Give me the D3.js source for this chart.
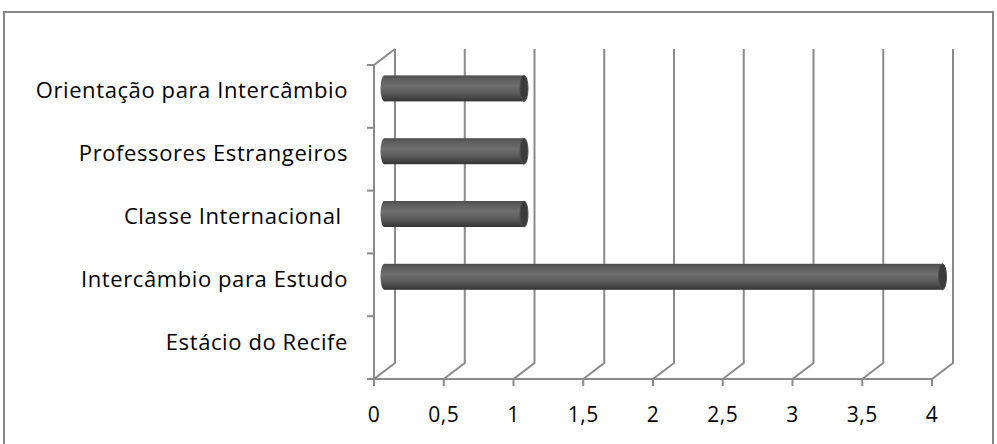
<!DOCTYPE html>
<html>
<head>
<meta charset="utf-8">
<script src="https://cdn.jsdelivr.net/npm/d3@7"></script>
<style>
  body { margin: 0; background: #fff; }
  text { font-family: "Open Sans", sans-serif; fill: #000; white-space: pre; }
</style>
</head>
<body>
<script>
// categories from top to bottom
const categories = ["Orientação para Intercâmbio", "Professores Estrangeiros", "Classe Internacional ", "Intercâmbio para Estudo", "Estácio do Recife"];
const values = [1, 1, 1, 4, 0];
const tickValues = [0, 0.5, 1, 1.5, 2, 2.5, 3, 3.5, 4];
const tickLabels = ["0", "0,5", "1", "1,5", "2", "2,5", "3", "3,5", "4"];

const w = 997, h = 444;
const depthX = 21, depthY = -16;
const gridColor = "#8a8a8a";

const svg = d3.select("body").append("svg")
    .attr("width", w)
    .attr("height", h);

// outer frame
svg.append("rect")
    .attr("x", 4).attr("y", 12)
    .attr("width", 989).attr("height", 440)
    .attr("fill", "none")
    .attr("stroke", "#878787")
    .attr("stroke-width", 2);

const x = d3.scaleLinear().domain([0, 4]).range([374, 932]);
const y = d3.scaleBand().domain(categories).range([65, 379]);

const yBottom = y.range()[1], yTop = y.range()[0];

const defs = svg.append("defs");
const grad = defs.append("linearGradient")
    .attr("id", "cyl").attr("x1", 0).attr("y1", 0).attr("x2", 0).attr("y2", 1);
[[0, "#4c4c4c"], [0.12, "#5c5c5c"], [0.4, "#6e6e6e"], [0.65, "#5e5e5e"], [0.88, "#444"], [1, "#333"]]
    .forEach(s => grad.append("stop").attr("offset", s[0]).attr("stop-color", s[1]));

const g = svg.append("g")
    .attr("stroke", gridColor)
    .attr("stroke-width", 2)
    .attr("fill", "none");

// back wall verticals + floor diagonals
tickValues.forEach(v => {
    g.append("path")
        .attr("d", `M${x(v)},${yBottom}L${x(v) + depthX},${yBottom + depthY}L${x(v) + depthX},${yTop + depthY}`);
});

// left wall: front axis and top diagonal
g.append("path")
    .attr("d", `M${x(0)},${yBottom}L${x(0)},${yTop}L${x(0) + depthX},${yTop + depthY}`);

// floor front edge
g.append("line")
    .attr("x1", x(0)).attr("x2", x(4))
    .attr("y1", yBottom).attr("y2", yBottom);

// x ticks
tickValues.forEach(v => {
    g.append("line")
        .attr("x1", x(v)).attr("x2", x(v))
        .attr("y1", yBottom).attr("y2", yBottom + 7);
});

// category ticks
const bounds = categories.map(c => y(c)).concat([yBottom]);
bounds.forEach(b => {
    g.append("line")
        .attr("x1", x(0) - 7).attr("x2", x(0))
        .attr("y1", b).attr("y2", b);
});

// cylinders
const ry = 13, rx = 4;
categories.forEach((c, i) => {
    if (values[i] <= 0) return;
    const cy = y(c) + y.bandwidth() / 2 + depthY / 2;
    const xs = x(0) + depthX / 2, xe = x(values[i]) + depthX / 2;
    const bar = svg.append("g");
    bar.append("ellipse")
        .attr("cx", xs).attr("cy", cy).attr("rx", rx).attr("ry", ry)
        .attr("fill", "url(#cyl)");
    bar.append("rect")
        .attr("x", xs).attr("y", cy - ry)
        .attr("width", xe - xs).attr("height", ry * 2)
        .attr("fill", "url(#cyl)");
    bar.append("ellipse")
        .attr("cx", xe).attr("cy", cy).attr("rx", rx).attr("ry", ry)
        .attr("fill", "#3b3b3b")
        .attr("stroke", "#4e4e4e")
        .attr("stroke-width", 1);
});

// category labels
svg.selectAll(".cat")
    .data(categories)
    .enter().append("text")
    .attr("class", "cat")
    .attr("x", 348)
    .attr("y", d => y(d) + y.bandwidth() / 2 + 2)
    .attr("text-anchor", "end")
    .attr("font-size", 22)
    .attr("letter-spacing", 0.6)
    .text(d => d);

// value labels
svg.selectAll(".tick")
    .data(tickValues)
    .enter().append("text")
    .attr("class", "tick")
    .attr("x", d => x(d))
    .attr("y", 422)
    .attr("text-anchor", "middle")
    .attr("font-size", 21)
    .attr("letter-spacing", 0.5)
    .text((d, i) => tickLabels[i]);
</script>
</body>
</html>
